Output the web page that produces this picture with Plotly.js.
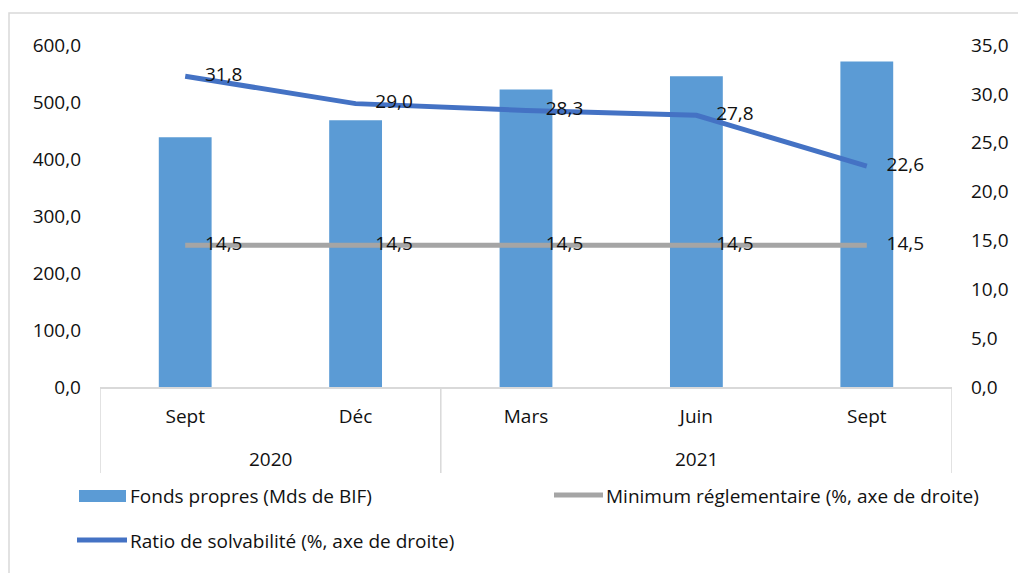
<!DOCTYPE html>
<html>
<head>
<meta charset="utf-8">
<script src="https://cdn.plot.ly/plotly-3.0.1.min.js"></script>
<style>
  html, body { margin: 0; padding: 0; background: #fff; }
  #chart { width: 1018px; height: 573px; }
</style>
</head>
<body>
<div id="chart"></div>
<script>
// ---- Data ----
const years = ['2020', '2020', '2021', '2021', '2021'];
const months = ['Sept', 'Déc', 'Mars', 'Juin', 'Sept'];
const fondsPropres = [438, 468, 522, 545, 571];              // Mds de BIF (left axis)
const ratioSolvabilite = [31.8, 29.0, 28.3, 27.8, 22.6];     // % (right axis)
const minimumReglementaire = [14.5, 14.5, 14.5, 14.5, 14.5]; // % (right axis)
const leftTicks = [0, 100, 200, 300, 400, 500, 600];
const rightTicks = [0, 5, 10, 15, 20, 25, 30, 35];

const seriesNames = [
  'Fonds propres (Mds de BIF)',
  'Minimum réglementaire (%, axe de droite)',
  'Ratio de solvabilité (%, axe de droite)'
];

const fmt = v => v.toFixed(1).replace('.', ',');
const idx = months.map((_, i) => i);

const FONT = "'Open Sans', 'DejaVu Sans', sans-serif";
const FS = 19;
const TXT = '#111111';
const GRID = '#D9D9D9';

// pixel -> paper helpers (plot area: x 100..952, y 45..387)
const L = 100, R = 66, T = 45, B = 186, W = 1018, H = 573;
const PW = W - L - R, PH = H - T - B;
const px = x => (x - L) / PW;
const py = y => (H - B - y) / PH;

// year groups derived from the data
const groups = [];
years.forEach((y, i) => {
  const g = groups[groups.length - 1];
  if (g && g.year === y) g.end = i; else groups.push({ year: y, start: i, end: i });
});

const traces = [
  {
    type: 'bar',
    name: seriesNames[0],
    x: idx,
    y: fondsPropres,
    width: 0.31,
    marker: { color: '#5B9BD5' },
    yaxis: 'y',
    hoverinfo: 'skip'
  },
  {
    type: 'scatter',
    mode: 'lines+markers+text',
    name: seriesNames[1],
    x: idx,
    y: minimumReglementaire,
    yaxis: 'y2',
    line: { color: '#A5A5A5', width: 5 },
    marker: { size: 30, color: 'rgba(0,0,0,0)' },
    text: minimumReglementaire.map(fmt),
    textposition: 'middle right',
    textfont: { family: FONT, size: FS, color: TXT },
    hoverinfo: 'skip'
  },
  {
    type: 'scatter',
    mode: 'lines+markers+text',
    name: seriesNames[2],
    x: idx,
    y: ratioSolvabilite,
    yaxis: 'y2',
    line: { color: '#4472C4', width: 5 },
    marker: { size: 30, color: 'rgba(0,0,0,0)' },
    text: ratioSolvabilite.map(fmt),
    textposition: 'middle right',
    textfont: { family: FONT, size: FS, color: TXT },
    hoverinfo: 'skip'
  }
];

const shapes = [
  // outer chart border
  { type: 'rect', xref: 'paper', yref: 'paper', x0: px(9), x1: px(1040), y0: py(13), y1: py(620),
    line: { color: GRID, width: 1.5 }, fillcolor: 'rgba(0,0,0,0)', layer: 'below' },
  // legend symbols
  { type: 'rect', xref: 'paper', yref: 'paper', x0: px(79), x1: px(126), y0: py(502), y1: py(490),
    line: { width: 0 }, fillcolor: '#5B9BD5' },
  { type: 'line', xref: 'paper', yref: 'paper', x0: px(554), x1: px(603), y0: py(495), y1: py(495),
    line: { color: '#A5A5A5', width: 5 } },
  { type: 'line', xref: 'paper', yref: 'paper', x0: px(77), x1: px(127), y0: py(540), y1: py(540),
    line: { color: '#4472C4', width: 5 } }
];

// group dividers on the category axis
const dividerX = [groups[0].start - 0.5].concat(groups.map(g => g.end + 0.5));
dividerX.forEach(x => shapes.push({
  type: 'line', xref: 'x', yref: 'paper', x0: x, x1: x, y0: py(387), y1: py(473),
  line: { color: GRID, width: 1.5 }
}));

const legendAnn = (text, x, y) => ({
  text: text, xref: 'paper', yref: 'paper', x: px(x), y: py(y),
  xanchor: 'left', yanchor: 'middle', showarrow: false, borderpad: 0,
  font: { family: FONT, size: FS, color: TXT }
});

const annotations = [
  legendAnn(seriesNames[0], 129, 496),
  legendAnn(seriesNames[1], 605, 496),
  legendAnn(seriesNames[2], 129, 541)
].concat(groups.map(g => ({
  text: g.year, xref: 'x', yref: 'paper', x: (g.start + g.end) / 2, y: py(459),
  xanchor: 'center', yanchor: 'middle', showarrow: false, borderpad: 0,
  font: { family: FONT, size: FS, color: TXT }
})));

const layout = {
  width: W, height: H,
  margin: { l: L, r: R, t: T, b: B, pad: 0 },
  paper_bgcolor: '#FFFFFF',
  plot_bgcolor: '#FFFFFF',
  showlegend: false,
  font: { family: FONT, size: FS, color: TXT },
  xaxis: {
    range: [-0.5, months.length - 0.5],
    tickvals: idx,
    ticktext: months,
    showline: true, linecolor: GRID, linewidth: 1.5,
    showgrid: false, zeroline: false,
    ticks: '', ticklabelstandoff: 12,
    tickfont: { family: FONT, size: FS, color: TXT },
    fixedrange: true
  },
  yaxis: {
    range: [0, 600],
    tickvals: leftTicks,
    ticktext: leftTicks.map(fmt),
    showgrid: false, zeroline: false, showline: false,
    ticks: '', ticklabelstandoff: 18,
    tickfont: { family: FONT, size: FS, color: TXT },
    fixedrange: true
  },
  yaxis2: {
    range: [0, 35],
    overlaying: 'y', side: 'right',
    tickvals: rightTicks,
    ticktext: rightTicks.map(fmt),
    showgrid: false, zeroline: false, showline: false,
    ticks: '', ticklabelstandoff: 18,
    tickfont: { family: FONT, size: FS, color: TXT },
    fixedrange: true
  },
  shapes: shapes,
  annotations: annotations
};

Plotly.newPlot('chart', traces, layout, { staticPlot: true, displayModeBar: false });
</script>
</body>
</html>
